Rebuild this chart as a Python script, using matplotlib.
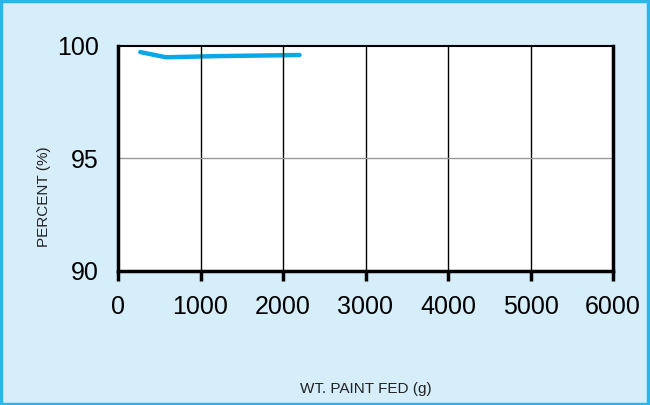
import matplotlib
matplotlib.use("Agg")
import matplotlib.pyplot as plt
from matplotlib.patches import Rectangle

# 数据
paint_fed = [270, 580, 1200, 2200]
percent = [99.73, 99.50, 99.55, 99.60]

x_ticks = [0, 1000, 2000, 3000, 4000, 5000, 6000]
y_ticks = [90, 95, 100]

BG = "#d6edfa"
BORDER = "#29b6ea"
LINE = "#0aa8e6"

plt.rcParams["font.family"] = ["Liberation Sans", "DejaVu Sans"]

fig = plt.figure(figsize=(6.5, 4.05), dpi=100, facecolor=BG)
fig.patches.append(Rectangle((0.0015, 0.0025), 0.996, 0.994, transform=fig.transFigure,
                             fill=False, edgecolor=BORDER, lw=2.5))
ax = fig.add_axes([118 / 650, 1 - 271 / 405, (613 - 118) / 650, (271 - 46) / 405])
ax.set_facecolor("white")

ax.plot(paint_fed, percent, color=LINE, lw=3.2, solid_capstyle="round")

ax.set_xlim(0, 6000)
ax.set_ylim(90, 100)
ax.set_xticks(x_ticks)
ax.set_yticks(y_ticks)
ax.tick_params(axis="x", direction="out", length=7, width=2.5, labelsize=18, pad=10)
ax.tick_params(axis="y", length=0, labelsize=18, pad=14)

for x in x_ticks[1:-1]:
    ax.axvline(x, color="black", lw=1.0)
ax.axhline(95, color="#999999", lw=1.0)

for side in ["left", "right", "bottom"]:
    ax.spines[side].set_linewidth(2.5)
ax.spines["top"].set_linewidth(1.5)

ax.set_xlabel("WT. PAINT FED (g)", fontsize=11, labelpad=46, color="#222222")
ax.set_ylabel("PERCENT (%)", fontsize=11, color="#222222")
ax.yaxis.set_label_coords(-0.135, 0.33)

fig.savefig("out.png", dpi=100, facecolor=BG)
